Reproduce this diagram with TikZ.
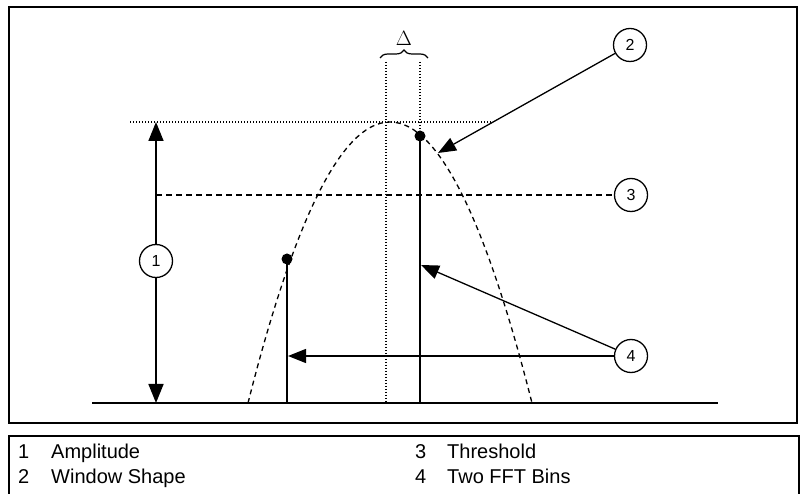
\documentclass[tikz,border=0pt]{standalone}
\usepackage{fontspec}
\setmainfont{Liberation Sans}
\usetikzlibrary{arrows.meta,decorations.pathreplacing}
\tikzset{
  callout/.style={circle, draw, line width=1.3pt, minimum size=33pt, inner sep=0pt, font=\fontsize{16}{16}\selectfont},
  bindot/.style={circle, fill=black, minimum size=11pt, inner sep=0pt},
  bigtip/.style={line width=1.6pt, -{Triangle[length=19pt,width=15pt]}},
  pointer/.style={line width=1.3pt, -{Triangle[length=18pt,width=14pt]}},
  legend/.style={anchor=base west, inner sep=0pt, font=\fontsize{20}{20}\selectfont}
}
\begin{document}
\begin{tikzpicture}[x=1pt,y=-1pt]
		%%%%% START %%%%%
		\useasboundingbox (0,0) rectangle (801,494);
		
		% frames
		\draw[line width=2.6pt] (9,7) rectangle (797,423);
		\draw[line width=2.6pt] (9,500) -- (9,436) -- (799,436) -- (799,500);
		
		% baseline
		\draw[line width=1.6pt] (92,403) -- (718,403);
		
		% window shape
		\draw[line width=1.3pt, dash pattern=on 5pt off 4pt] plot[domain=-1:1, samples=61] ({390+142*\x},{122+281*\x*\x});
		
		% dotted guides
		\draw[line width=1.2pt, dash pattern=on 1pt off 2pt] (130,122) -- (492,122);
		\draw[line width=1.2pt, dash pattern=on 1pt off 2pt] (386,62) -- (386,403);
		\draw[line width=1.2pt, dash pattern=on 1pt off 2pt] (420,62) -- (420,403);
		\draw[line width=1.2pt, decorate, decoration={brace, amplitude=8pt}] (380,58) -- (428,58);
		\node[font=\fontsize{20}{20}\selectfont] (delta) at (404,38) {$\Delta$};
		
		% FFT bins
		\node[bindot] (binL) at (287,259) {};
		\node[bindot] (binR) at (420,136) {};
		\draw[line width=1.6pt] (binL.center) -- (287,403);
		\draw[line width=1.6pt] (binR.center) -- (420,403);
		
		% callouts
		\node[callout] (c1) at (156,261) {1};
		\node[callout] (c2) at (630,45) {2};
		\node[callout] (c3) at (631,195) {3};
		\node[callout] (c4) at (631,356) {4};
		
		\coordinate (ampTop) at (156,122);
		\coordinate (ampBot) at (156,403);
		\draw[bigtip] (c1) -- (ampTop);
		\draw[bigtip] (c1) -- (ampBot);
		
		\coordinate (thrL) at (156,195);
		\draw[line width=1.3pt, dash pattern=on 6pt off 4pt] (thrL) -- (c3);
		
		\coordinate (shapeTip) at (438,153);
		\draw[pointer] (c2) -- (shapeTip);
		
		\coordinate (binTipR) at (421,265);
		\coordinate (binTipL) at (288,356);
		\draw[pointer] (c4) -- (binTipR);
		\draw[pointer] (c4) -- (binTipL);
		
		% legend
		\node[legend] (n1) at (18,458) {1};
		\node[legend] (t1) at (51,458) {Amplitude};
		\node[legend] (n2) at (18,483) {2};
		\node[legend] (t2) at (51,483) {Window Shape};
		\node[legend] (n3) at (415,458) {3};
		\node[legend] (t3) at (447,458) {Threshold};
		\node[legend] (n4) at (415,483) {4};
		\node[legend] (t4) at (447,483) {Two FFT Bins};
		%%%%% END %%%%%
	\end{tikzpicture}
\end{document}
